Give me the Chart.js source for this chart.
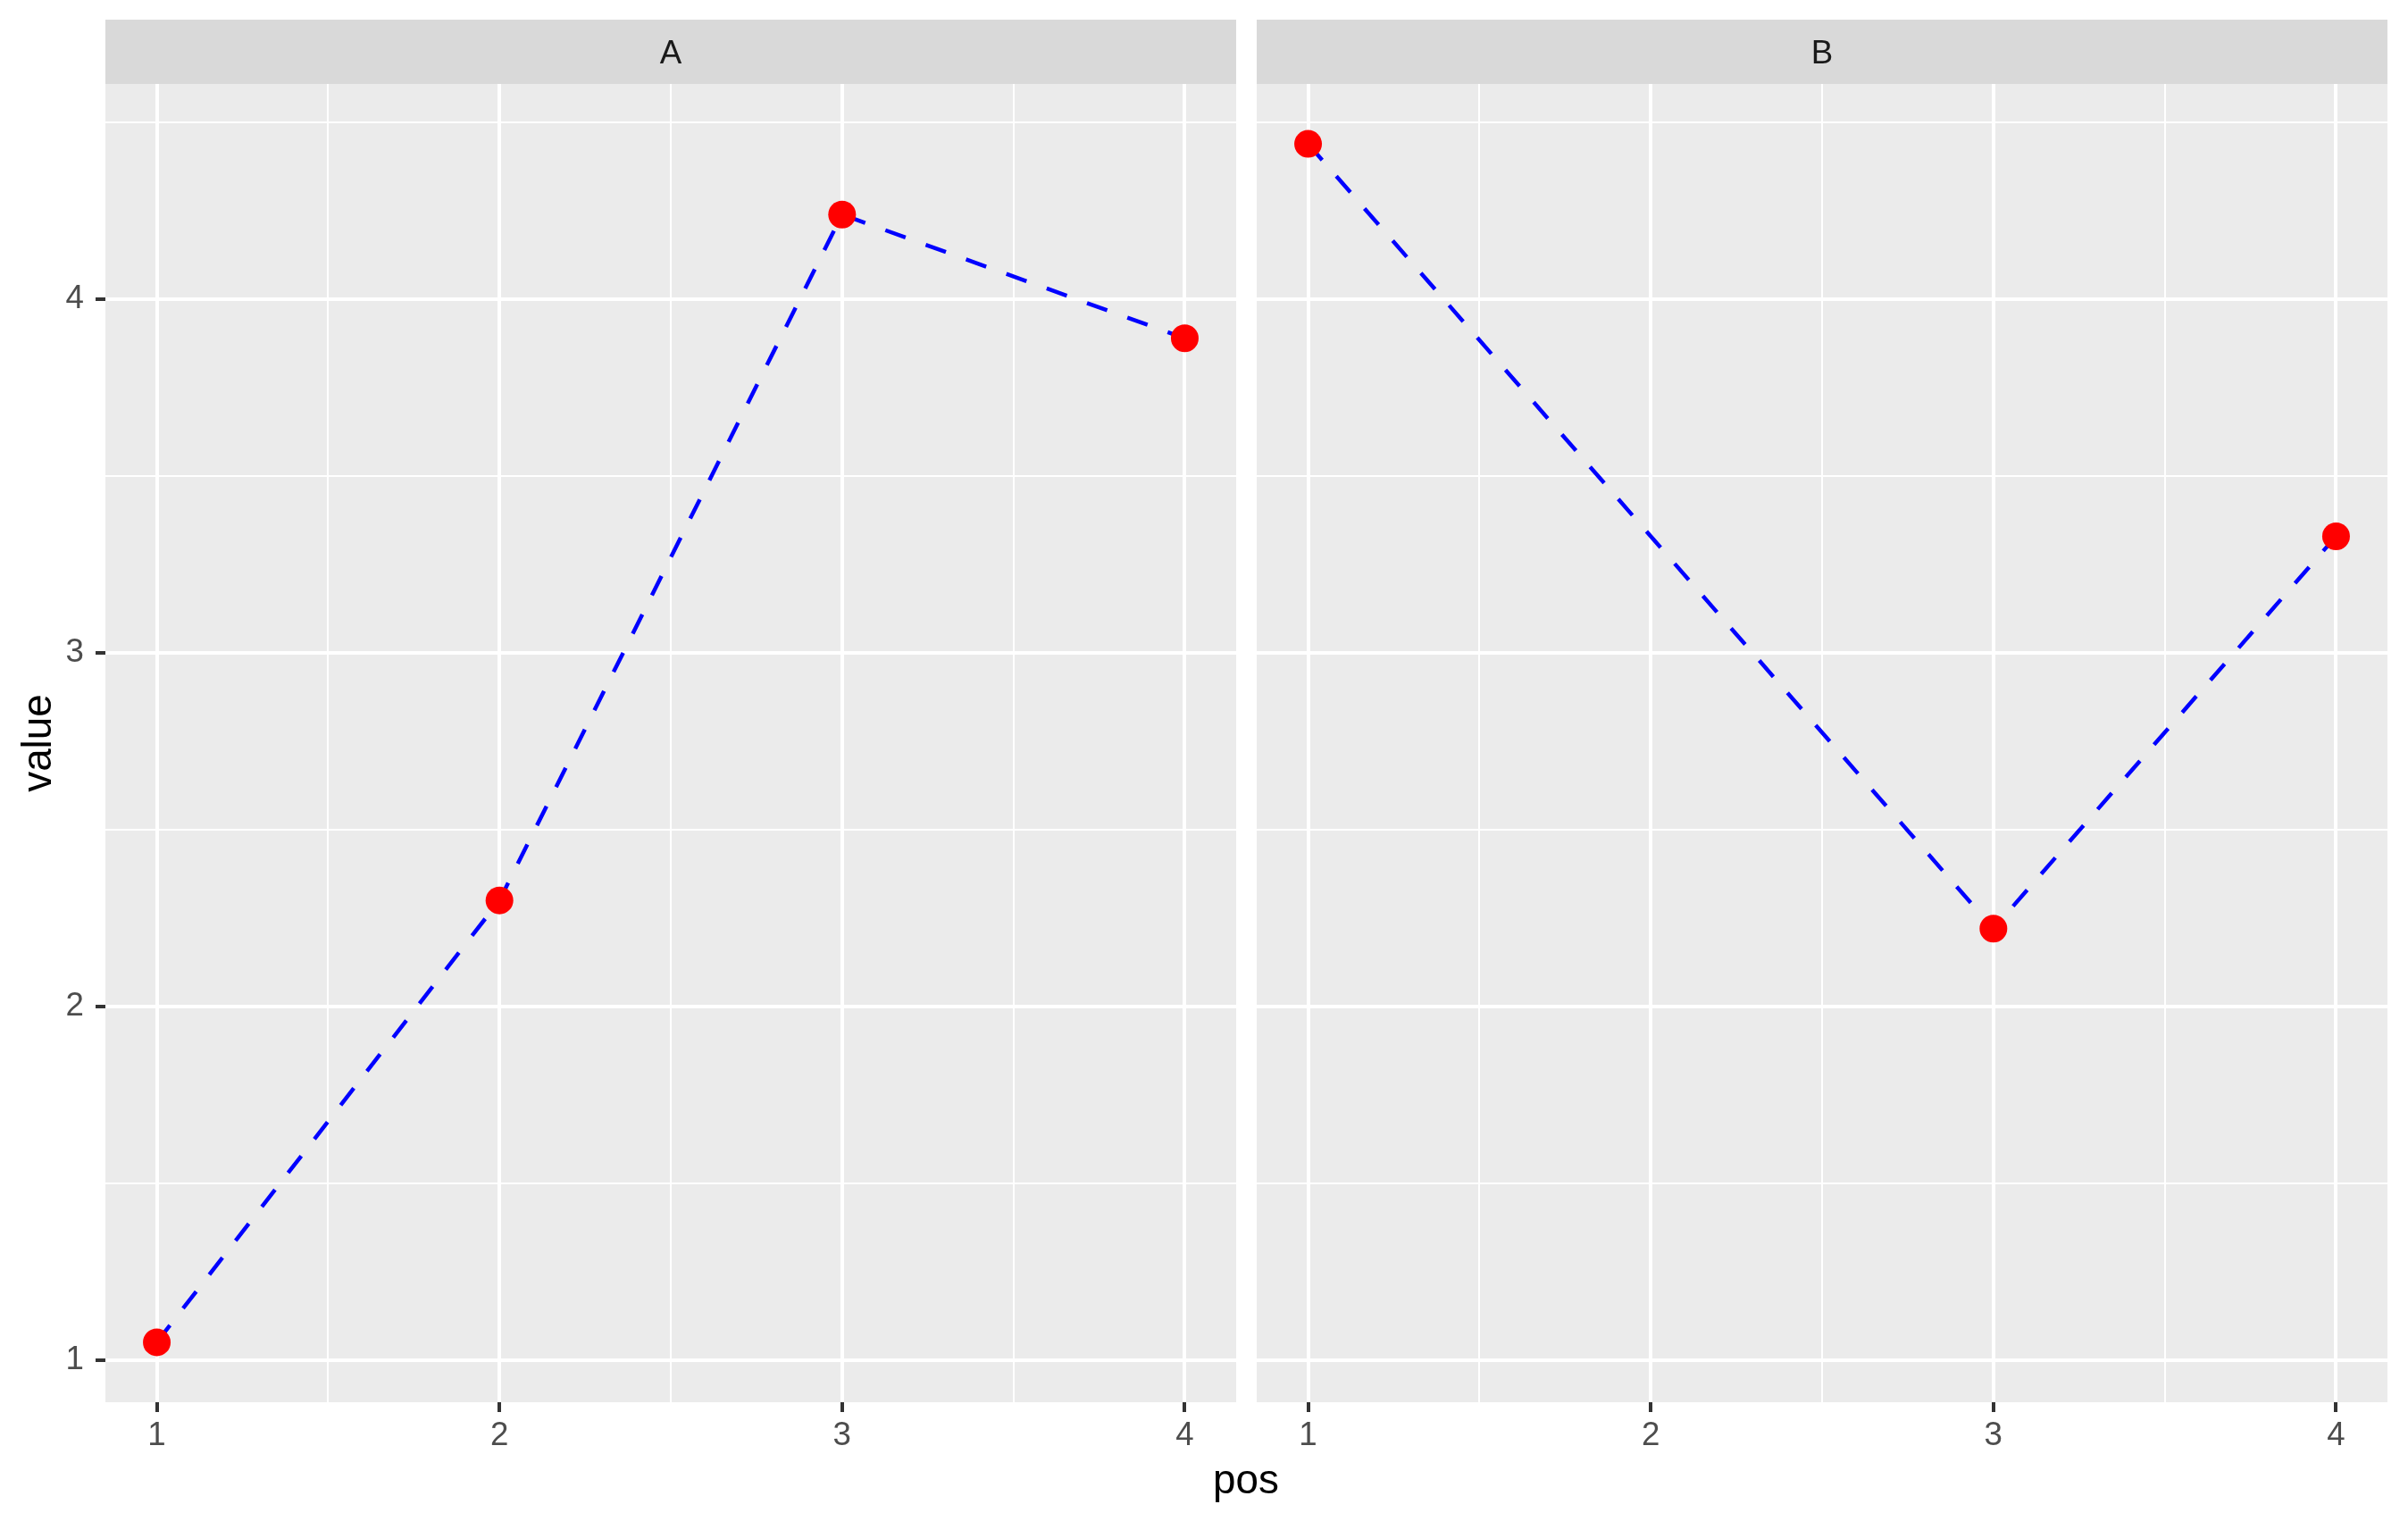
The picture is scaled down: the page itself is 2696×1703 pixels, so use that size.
<!DOCTYPE html>
<html>
<head>
<meta charset="utf-8">
<title>value by pos</title>
<script src="https://cdn.jsdelivr.net/npm/chart.js@4/dist/chart.umd.min.js"></script>
<style>
  body { margin: 0; background: #ffffff; }
  #wrap { position: relative; width: 2696px; height: 1703px; overflow: hidden; font-family: "Liberation Sans", Arial, sans-serif; }
  canvas { position: absolute; top: 0; }
  #chartA { left: 0; }
  #chartB { left: 1407px; }
  .axis-title { position: absolute; font-size: 45.8px; line-height: 1; color: #000000; text-align: center; white-space: nowrap; }
  #xTitle { left: 1195px; top: 1634px; width: 400px; height: 46px; }
  #yTitle { left: -108px; top: 809px; width: 300px; height: 46px; transform: rotate(-90deg); }
</style>
</head>
<body>
<div id="wrap">
  <canvas id="chartA" width="1384" height="1703"></canvas>
  <canvas id="chartB" width="1266" height="1703"></canvas>
  <div id="xTitle" class="axis-title">pos</div>
  <div id="yTitle" class="axis-title">value</div>
</div>
<script>
//Data
const panelLabels = ["A", "B"];
const posA = [1, 2, 3, 4];
const valueA = [1.05, 2.30, 4.24, 3.89];
const posB = [1, 3, 4];
const valueB = [4.44, 2.22, 3.33];
const xTicks = [1, 1.5, 2, 2.5, 3, 3.5, 4];
const yTicks = [1, 1.5, 2, 2.5, 3, 3.5, 4, 4.5];

//Shared axis ranges, ggplot style 5% expansion
const allPos = posA.concat(posB);
const allValues = valueA.concat(valueB);
const xPad = (Math.max(...allPos) - Math.min(...allPos)) * 0.05;
const yPad = (Math.max(...allValues) - Math.min(...allValues)) * 0.05;
const xMin = Math.min(...allPos) - xPad;
const xMax = Math.max(...allPos) + xPad;
const yMin = Math.min(...allValues) - yPad;
const yMax = Math.max(...allValues) + yPad;

const fontFamily = '"Liberation Sans", Arial, sans-serif';
const tickFont = { family: fontFamily, size: 36.7 };

const isMajor = ctx => ctx.tick && Number.isInteger(ctx.tick.value);

//Grey panel background plus the facet strip on top
const panelPlugin = {
  id: 'panel',
  beforeDraw(chart, args, opts) {
    const { ctx, chartArea } = chart;
    ctx.save();
    ctx.fillStyle = '#EBEBEB';
    ctx.fillRect(chartArea.left, chartArea.top, chartArea.right - chartArea.left, chartArea.bottom - chartArea.top);
    ctx.fillStyle = '#D9D9D9';
    ctx.fillRect(chartArea.left, 22, chartArea.right - chartArea.left, chartArea.top - 22);
    ctx.fillStyle = '#1A1A1A';
    ctx.font = '36.7px ' + fontFamily;
    ctx.textAlign = 'center';
    ctx.textBaseline = 'middle';
    ctx.fillText(opts.label, (chartArea.left + chartArea.right) / 2, 61);
    ctx.restore();
  }
};

function makeOptions(label, showY) {
  return {
    responsive: false,
    animation: false,
    layout: { autoPadding: false, padding: { top: 94, left: 0, right: 0, bottom: 0 } },
    plugins: {
      legend: { display: false },
      tooltip: { enabled: false },
      panel: { label: label }
    },
    scales: {
      x: {
        type: 'linear',
        min: xMin,
        max: xMax,
        afterBuildTicks: s => { s.ticks = xTicks.map(v => ({ value: v })); },
        afterFit: s => { s.height = 133; },
        border: { display: false },
        grid: {
          color: '#FFFFFF',
          lineWidth: ctx => isMajor(ctx) ? 4 : 2,
          tickLength: 11,
          tickWidth: 4,
          tickColor: ctx => isMajor(ctx) ? '#333333' : 'rgba(0,0,0,0)'
        },
        ticks: {
          autoSkip: false,
          maxRotation: 0,
          padding: 5,
          color: '#4D4D4D',
          font: tickFont,
          callback: v => Number.isInteger(v) ? String(v) : ''
        }
      },
      y: {
        type: 'linear',
        min: yMin,
        max: yMax,
        afterBuildTicks: s => { s.ticks = yTicks.map(v => ({ value: v })); },
        afterFit: s => { s.width = showY ? 118 : 0; },
        border: { display: false },
        grid: {
          color: '#FFFFFF',
          lineWidth: ctx => isMajor(ctx) ? 4 : 2,
          drawTicks: showY,
          tickLength: 11,
          tickWidth: 4,
          tickColor: ctx => isMajor(ctx) ? '#333333' : 'rgba(0,0,0,0)'
        },
        ticks: {
          display: showY,
          autoSkip: false,
          padding: 13,
          color: '#4D4D4D',
          font: tickFont,
          callback: v => Number.isInteger(v) ? String(v) : ''
        }
      }
    }
  };
}

function makeDataset(pos, values) {
  return {
    data: pos.map((p, i) => ({ x: p, y: values[i] })),
    borderColor: '#0000FF',
    borderWidth: 4.5,
    borderDash: [24, 24],
    tension: 0,
    fill: false,
    pointRadius: 15.5,
    pointBackgroundColor: '#FF0000',
    pointBorderWidth: 0,
    pointBorderColor: '#FF0000'
  };
}

//Panel A (with y axis)
const chartA = new Chart(document.getElementById('chartA'), {
  type: 'line',
  data: { datasets: [makeDataset(posA, valueA)] },
  options: makeOptions(panelLabels[0], true),
  plugins: [panelPlugin]
});

//Panel B (y axis shared, no labels)
const chartB = new Chart(document.getElementById('chartB'), {
  type: 'line',
  data: { datasets: [makeDataset(posB, valueB)] },
  options: makeOptions(panelLabels[1], false),
  plugins: [panelPlugin]
});
</script>
</body>
</html>
